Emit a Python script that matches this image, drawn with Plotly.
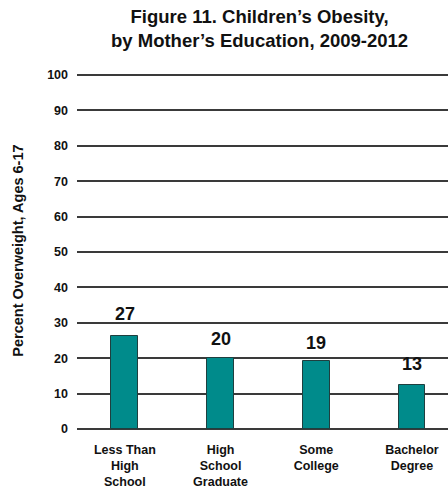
import plotly.graph_objects as go

categories = ["Less Than<br>High<br>School", "High<br>School<br>Graduate", "Some<br>College", "Bachelor<br>Degree"]
bar_values = [26.3, 20.1, 19.2, 12.4]
value_labels = [27, 20, 19, 13]
y_ticks = list(range(0, 101, 10))
title_lines = ["Figure 11. Children’s Obesity,", "by Mother’s Education, 2009-2012"]

FONT = "Liberation Sans, Arial, sans-serif"
BAR_COLOR = "#008b8b"

fig = go.Figure()
fig.add_trace(go.Bar(
    x=list(range(len(categories))),
    y=bar_values,
    width=0.28,
    marker=dict(color=BAR_COLOR, line=dict(color="#1f3f3f", width=1)),
    hoverinfo="skip",
))

for i, lab in enumerate(value_labels):
    fig.add_annotation(
        x=i, y=lab, xref="x", yref="y", text=f"<b>{lab}</b>",
        showarrow=False, yanchor="bottom", yshift=7,
        font=dict(family=FONT, size=18, color="#111"),
    )

# Title
fig.add_annotation(x=0.493, y=1.125, xref="paper", yref="paper",
                   text="<b>" + "<br>".join(title_lines) + "</b>", showarrow=False,
                   xanchor="center", yanchor="middle",
                   font=dict(family=FONT, size=18.5, color="#111"))

# Y axis title
fig.add_annotation(x=-0.16, y=0.5, xref="paper", yref="paper",
                   text="<b>Percent Overweight, Ages 6-17</b>", showarrow=False,
                   textangle=-90, xanchor="center", yanchor="middle",
                   font=dict(family=FONT, size=14.5, color="#111"))

fig.update_layout(
    width=448, height=489,
    margin=dict(l=77, r=0, t=73, b=58),
    paper_bgcolor="white", plot_bgcolor="white",
    showlegend=False,
    font=dict(family=FONT, color="#111"),
    bargap=0,
)
fig.update_xaxes(
    range=[-0.5, 3.377],
    tickmode="array", tickvals=list(range(len(categories))),
    ticktext=[f"<b>{c}</b>" for c in categories],
    tickfont=dict(family=FONT, size=12.5, color="#111"),
    showgrid=False, zeroline=False, showline=False, ticks="",
    ticklabelstandoff=11,
    fixedrange=True,
)
fig.update_yaxes(
    range=[0, 100.55],
    tickmode="array", tickvals=y_ticks,
    ticktext=[f"<b>{t}</b>" for t in y_ticks],
    tickfont=dict(family=FONT, size=12.5, color="#111"),
    showgrid=True, gridcolor="#3a3a3a", gridwidth=1.5,
    zeroline=True, zerolinecolor="#3a3a3a", zerolinewidth=1.5,
    showline=False, ticks="", ticklabelstandoff=8,
    fixedrange=True,
)

fig.write_html("out.html")
